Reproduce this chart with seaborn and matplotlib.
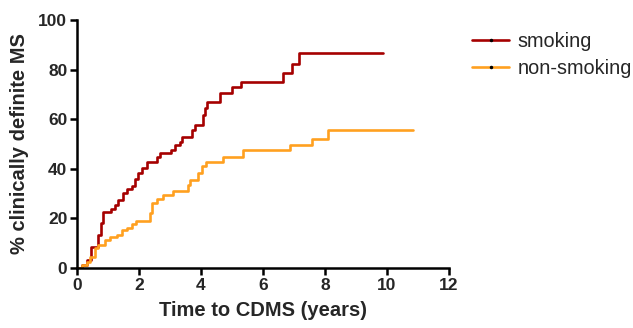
import numpy as np
import pandas as pd
from matplotlib import pyplot as plt
from matplotlib.lines import Line2D
import seaborn as sns

sns.set_style("white")
plt.rcParams['font.family'] = ['Liberation Sans', 'DejaVu Sans']

# cumulative % reaching CDMS
smoking_t = [0, 0.15, 0.31, 0.44, 0.69, 0.76, 0.85, 1.1, 1.23, 1.33, 1.47, 1.6, 1.76,
             1.87, 1.98, 2.1, 2.25, 2.57, 2.68, 3.04, 3.16, 3.32, 3.38, 3.7, 3.81,
             4.08, 4.13, 4.21, 4.61, 4.99, 5.3, 6.66, 6.94, 7.17, 9.88]
smoking_p = [0, 1.2, 3.2, 8.6, 13.3, 18, 22.7, 23.7, 25.4, 27.4, 30.4, 31.7, 33,
             35.8, 38.4, 40.5, 42.9, 44.9, 46.2, 47.6, 49.6, 50.9, 52.7, 55.6, 57.7,
             61.7, 64.4, 67.1, 70.4, 73.1, 75, 78.8, 82.3, 86.6, 86.6]

nonsmoking_t = [0, 0.15, 0.31, 0.42, 0.58, 0.69, 0.9, 1.06, 1.28, 1.44, 1.6, 1.76,
                1.92, 2.35, 2.41, 2.57, 2.78, 3.1, 3.59, 3.65, 3.91, 4.02, 4.15,
                4.72, 5.37, 6.87, 7.57, 8.1, 10.85]
nonsmoking_p = [0, 1.2, 2.4, 4.6, 7.9, 9.3, 11.3, 12.4, 13.3, 15.3, 16, 17.7,
                19.1, 22, 26.1, 27.7, 29.4, 31, 33.5, 35.5, 38.2, 41.1, 42.7,
                44.7, 47.4, 49.6, 52, 55.6, 55.6]

groups = ['smoking', 'non-smoking']
colors = {'smoking': '#A50000', 'non-smoking': '#FFA020'}

data = pd.concat([
    pd.DataFrame({'t': smoking_t, 'p': smoking_p, 'group': 'smoking'}),
    pd.DataFrame({'t': nonsmoking_t, 'p': nonsmoking_p, 'group': 'non-smoking'}),
])

fig = plt.figure(figsize=(6.33, 3.28), dpi=100)
ax = fig.add_axes([0.1216, 0.1829, 0.5877, 0.7561])

sns.lineplot(data=data, x='t', y='p', hue='group', palette=colors, hue_order=groups,
             estimator=None, sort=False, drawstyle='steps-post', linewidth=1.9,
             legend=False, ax=ax)

ax.set_xlim(0, 12)
ax.set_ylim(0, 100)
ax.set_xticks(np.arange(0, 13, 2))
ax.set_yticks(np.arange(0, 101, 20))
sns.despine(ax=ax)
for s in ['left', 'bottom']:
    ax.spines[s].set_linewidth(1.8)
    ax.spines[s].set_color('black')
ax.tick_params(axis='both', direction='out', length=5, width=1.8, color='black',
               labelsize=12.5, pad=2, bottom=True, left=True)
for lab in ax.get_xticklabels() + ax.get_yticklabels():
    lab.set_fontweight('bold')
ax.set_xlabel('Time to CDMS (years)', fontsize=14.5, fontweight='bold', labelpad=6)
ax.set_ylabel('% clinically definite MS', fontsize=14.5, fontweight='bold', labelpad=7)

handles = [Line2D([0], [0], color=colors[g], lw=1.9, marker='o', markersize=1.5,
                  markerfacecolor='black', markeredgecolor='black') for g in groups]
fig.legend(handles, groups, loc='upper left', bbox_to_anchor=(0.717, 0.958),
           frameon=False, fontsize=14.3, handlelength=1.9, handletextpad=0.4,
           labelspacing=0.4)

fig.savefig('out.png', dpi=100)
